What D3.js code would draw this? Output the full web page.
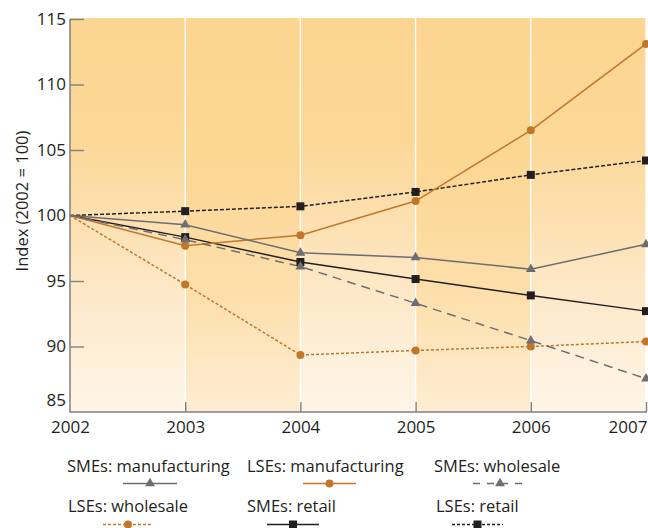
<!DOCTYPE html>
<html>
<head>
<meta charset="utf-8">
<script src="https://cdn.jsdelivr.net/npm/d3@7"></script>
<style>
  html, body { margin: 0; padding: 0; background: #fff; }
  svg { display: block; }
  text { font-family: "Open Sans", Lato, sans-serif; fill: #231f20; }
</style>
</head>
<body>
<svg id="chart" width="648" height="528"></svg>
<script>
// Years on the x axis
const years = [2002, 2003, 2004, 2005, 2006, 2007];
// Y tick values
const yTicks = [85, 90, 95, 100, 105, 110, 115];

// Index values (2002 = 100)
const smesManufacturing = [100, 99.3, 97.15, 96.8, 95.9, 97.8];
const lsesManufacturing = [100, 97.7, 98.5, 101.1, 106.5, 113.1];
const smesWholesale     = [100, 98.15, 96.1, 93.3, 90.45, 87.55];
const lsesWholesale     = [100, 94.73, 89.35, 89.7, 90.0, 90.38];
const smesRetail        = [100, 98.35, 96.45, 95.15, 93.9, 92.7];
const lsesRetail        = [100, 100.33, 100.7, 101.8, 103.1, 104.2];

const seriesNames = [
  "SMEs: manufacturing", "LSEs: manufacturing", "SMEs: wholesale",
  "LSEs: wholesale", "SMEs: retail", "LSEs: retail"
];

const ORANGE = "#c0772c", GREY = "#6d6e71", BLACK = "#231f20";
const FONT = "16.5px";

const series = [
  { name: seriesNames[0], values: smesManufacturing, color: GREY,   dash: null,  legendDash: null,  marker: "triangle" },
  { name: seriesNames[1], values: lsesManufacturing, color: ORANGE, dash: null,  legendDash: null,  marker: "circle" },
  { name: seriesNames[2], values: smesWholesale,     color: GREY,   dash: "9,6", legendDash: "7,7", marker: "triangle" },
  { name: seriesNames[3], values: lsesWholesale,     color: ORANGE, dash: "3,2", legendDash: "3,2", marker: "circle" },
  { name: seriesNames[4], values: smesRetail,        color: BLACK,  dash: null,  legendDash: null,  marker: "square" },
  { name: seriesNames[5], values: lsesRetail,        color: BLACK,  dash: "4,2", legendDash: "3,2", marker: "square" }
];

const svg = d3.select("#chart");
const plotL = 70, plotR = 646, plotT = 19, plotB = 412;

const x = d3.scalePoint().domain(years).range([plotL, plotR]);
const y = d3.scaleLinear().domain([85, 115]).range([plotB, plotT]);

// Background column gradients
const defs = svg.append("defs");
function grad(id, stops) {
  const g = defs.append("linearGradient").attr("id", id)
    .attr("x1", 0).attr("y1", 0).attr("x2", 0).attr("y2", 1);
  stops.forEach(([o, c]) => g.append("stop").attr("offset", o).attr("stop-color", c));
}
grad("colA", [[0, "#fcd592"], [0.3, "#fcd796"], [0.65, "#fde6c2"], [1, "#fef6e9"]]);
grad("colB", [[0, "#fcd592"], [0.35, "#fcd693"], [0.7, "#fddfab"], [1, "#feedd3"]]);

svg.append("g").selectAll("rect")
  .data(years.slice(0, -1))
  .join("rect")
  .attr("x", d => x(d))
  .attr("y", plotT - 1)
  .attr("width", x.step())
  .attr("height", plotB - plotT + 1)
  .attr("fill", (d, i) => i % 2 === 0 ? "url(#colA)" : "url(#colB)");

// White vertical gridlines
svg.append("g").selectAll("line")
  .data(years.slice(1))
  .join("line")
  .attr("x1", d => x(d)).attr("x2", d => x(d))
  .attr("y1", plotT - 1).attr("y2", plotB)
  .attr("stroke", "#fff").attr("stroke-width", 1.4);

// Y axis
const yAxis = svg.append("g")
  .attr("transform", `translate(${plotL},0)`)
  .call(d3.axisRight(y).tickValues(yTicks).tickSize(14).tickFormat(d3.format("d")));
yAxis.select(".domain").remove();
yAxis.selectAll(".tick line").attr("stroke", "#808080").attr("stroke-width", 1.4);
yAxis.selectAll(".tick text")
  .attr("x", -4).attr("dy", "0.36em").attr("text-anchor", "end")
  .style("font-size", "17px").style("font-family", "'Open Sans', sans-serif").attr("fill", BLACK)
  .attr("transform", d => d === 85 ? "translate(0,-13)" : "translate(0,-1)");
yAxis.selectAll(".tick").filter(d => d === 85).select("line").remove();

// X axis
const xAxis = svg.append("g")
  .attr("transform", `translate(0,${plotB})`)
  .call(d3.axisTop(x).tickSize(10).tickFormat(d3.format("d")));
xAxis.select(".domain").remove();
xAxis.selectAll(".tick line").attr("stroke", "#808080").attr("stroke-width", 1.4);
xAxis.selectAll(".tick").filter(d => d === 2002).select("line").remove();
xAxis.selectAll(".tick text")
  .attr("y", 21).attr("dy", 0)
  .style("font-size", "17px").style("font-family", "'Open Sans', sans-serif").attr("fill", BLACK)
  .attr("text-anchor", d => d === 2007 ? "end" : "middle")
  .attr("x", d => d === 2007 ? 1 : 0);

// Axis lines
svg.append("path")
  .attr("d", `M${plotL},${plotT}V${plotB}H${plotR + 1}`)
  .attr("fill", "none").attr("stroke", "#808080").attr("stroke-width", 1.5);

// Y axis title
svg.append("text")
  .attr("transform", "translate(28,201) rotate(-90)")
  .attr("text-anchor", "middle")
  .style("font-size", "16.5px")
  .text("Index (2002 = 100)");

// Marker drawing
function drawMarker(sel, type, color) {
  if (type === "circle") {
    sel.append("circle").attr("r", 4).attr("fill", color);
  } else if (type === "square") {
    sel.append("rect").attr("x", -4).attr("y", -4).attr("width", 8).attr("height", 8).attr("fill", color);
  } else {
    sel.append("path").attr("d", d3.symbol(d3.symbolTriangle, 42)()).attr("fill", color);
  }
}

const line = d3.line().x((d, i) => x(years[i])).y(d => y(d));

const drawOrder = [5, 4, 1, 3, 0, 2];
const lineG = svg.append("g");
drawOrder.forEach(k => {
  const s = series[k];
  lineG.append("path")
    .attr("d", line(s.values))
    .attr("fill", "none")
    .attr("stroke", s.color)
    .attr("stroke-width", 1.5)
    .attr("stroke-dasharray", s.dash);
});
const markG = svg.append("g");
drawOrder.forEach(k => {
  const s = series[k];
  s.values.forEach((v, i) => {
    if (i === 0) return;
    const g = markG.append("g").attr("transform", `translate(${x(years[i])},${y(v)})`);
    drawMarker(g, s.marker, s.color);
  });
});

// Legend: 3 columns x 2 rows (text x, sample line start/end)
const legendSlots = [
  { tx: 67,  lx1: 123, lx2: 177, ty: 472, ly: 483.5 },
  { tx: 247, lx1: 303, lx2: 356, ty: 472, ly: 483.5 },
  { tx: 434, lx1: 473, lx2: 527, ty: 472, ly: 483.5 },
  { tx: 68,  lx1: 103, lx2: 153, ty: 512, ly: 524.5 },
  { tx: 247, lx1: 267, lx2: 319, ty: 512, ly: 524.5 },
  { tx: 436, lx1: 452, lx2: 503, ty: 512, ly: 524.5 }
];

series.forEach((s, i) => {
  const p = legendSlots[i];
  const g = svg.append("g");
  g.append("text").attr("x", p.tx).attr("y", p.ty)
    .style("font-size", FONT).text(s.name);
  g.append("line")
    .attr("x1", p.lx1).attr("x2", p.lx2).attr("y1", p.ly).attr("y2", p.ly)
    .attr("stroke", s.color).attr("stroke-width", 1.5)
    .attr("stroke-dasharray", s.legendDash);
  const m = g.append("g").attr("transform", `translate(${(p.lx1 + p.lx2) / 2},${p.ly})`);
  drawMarker(m, s.marker, s.color);
});
</script>
</body>
</html>
